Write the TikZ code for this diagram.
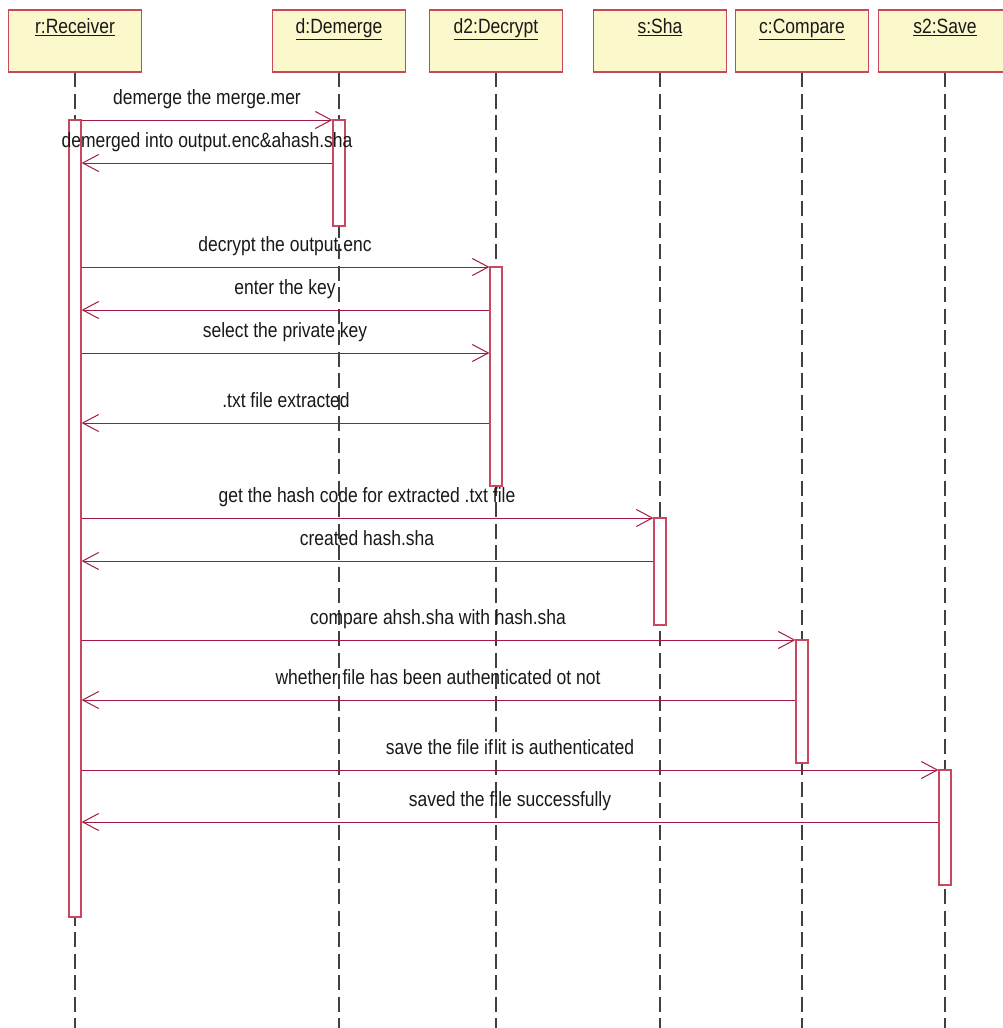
\documentclass[tikz,border=0pt]{standalone}
\usepackage{fontspec}
\usepackage{graphicx}
\setmainfont{Liberation Sans}
\usetikzlibrary{arrows.meta}
\definecolor{umlred}{HTML}{A3193F}
\definecolor{boxred}{HTML}{C8485E}
\definecolor{boxfill}{HTML}{FBF8CC}
\definecolor{lifegray}{HTML}{404040}
\newcommand{\tallt}[1]{\scalebox{1}[1.18]{#1}}
\tikzset{
  objbox/.style={draw=boxred, line width=1.3pt, fill=boxfill, minimum width=133pt, minimum height=62pt, inner sep=0pt},
  objlabel/.style={font=\fontsize{17.5}{20}\selectfont, text=black!90, inner sep=0pt, anchor=base},
  lifeline/.style={draw=lifegray, line width=1.3pt, dash pattern=on 15pt off 6.5pt},
  actbox/.style={draw=boxred, line width=1.2pt, fill=white, minimum width=12pt, inner sep=0pt},
  msg/.style={draw=umlred, line width=1pt, -{Straight Barb[length=16pt, width=17pt, line width=1pt]}},
  msglabel/.style={font=\fontsize{17.5}{20}\selectfont, text=black!90, inner sep=0pt, anchor=base}
}
\begin{document}
\begin{tikzpicture}[x=1pt, y=-1pt]
\useasboundingbox (0,0) rectangle (1002,1028);
% lifelines
\foreach \n/\x in {r/75, d/339, dd/496, s/660, c/802, ss/945} {
  \coordinate (\n top) at (\x,72);
  \coordinate (\n bot) at (\x,1028);
  \draw[lifeline] (\n top) -- (\n bot);
}
% object boxes
\node[objbox] (rbox) at (75,41) {};
\node[objbox] (dbox) at (339,41) {};
\node[objbox] (ddbox) at (496,41) {};
\node[objbox] (sbox) at (660,41) {};
\node[objbox] (cbox) at (802,41) {};
\node[objbox] (ssbox) at (945,41) {};
\foreach \n/\t in {r/r:Receiver, d/d:Demerge, dd/d2:Decrypt, s/s:Sha, c/c:Compare, ss/s2:Save} {
  \node[objlabel] (\n lab) at ([yshift=8pt]\n box.center) {\tallt{\underline{\t}}};
}
% activation boxes
\node[actbox, minimum height=797pt] (ra) at (75,518.5) {};
\node[actbox, minimum height=106pt] (da) at (339,173) {};
\node[actbox, minimum height=219pt] (dda) at (496,376.5) {};
\node[actbox, minimum height=107pt] (sa) at (660,571.5) {};
\node[actbox, minimum height=123pt] (ca) at (802,701.5) {};
\node[actbox, minimum height=115pt] (ssa) at (945,827.5) {};
% messages
\coordinate (m1a) at (ra.east |- 0,120);  \coordinate (m1b) at (da.west |- 0,120);
\coordinate (m2a) at (da.west |- 0,163);  \coordinate (m2b) at (ra.east |- 0,163);
\coordinate (m3a) at (ra.east |- 0,267);  \coordinate (m3b) at (dda.west |- 0,267);
\coordinate (m4a) at (dda.west |- 0,310); \coordinate (m4b) at (ra.east |- 0,310);
\coordinate (m5a) at (ra.east |- 0,353);  \coordinate (m5b) at (dda.west |- 0,353);
\coordinate (m6a) at (dda.west |- 0,423); \coordinate (m6b) at (ra.east |- 0,423);
\coordinate (m7a) at (ra.east |- 0,518);  \coordinate (m7b) at (sa.west |- 0,518);
\coordinate (m8a) at (sa.west |- 0,561);  \coordinate (m8b) at (ra.east |- 0,561);
\coordinate (m9a) at (ra.east |- 0,640);  \coordinate (m9b) at (ca.west |- 0,640);
\coordinate (m10a) at (ca.west |- 0,700); \coordinate (m10b) at (ra.east |- 0,700);
\coordinate (m11a) at (ra.east |- 0,770); \coordinate (m11b) at (ssa.west |- 0,770);
\coordinate (m12a) at (ssa.west |- 0,822);\coordinate (m12b) at (ra.east |- 0,822);
\foreach \i/\t/\lx in {
  1/demerge the merge.mer/207,
  2/demerged into output.enc\&ahash.sha/207,
  3/decrypt the output.enc/285,
  4/enter the key/285,
  5/select the private key/285,
  6/.txt file extracted/286,
  7/get the hash code for extracted .txt file/367,
  8/created hash.sha/367,
  9/compare ahsh.sha with hash.sha/438,
  10/whether file has been authenticated ot not/438,
  11/save the file if it is authenticated/510,
  12/saved the file successfully/510} {
  \draw[msg] (m\i a) -- (m\i b);
  \node[msglabel] (l\i) at ([yshift=16pt] m\i a -| \lx,0) {\tallt{\t}};
}
\end{tikzpicture}
\end{document}
